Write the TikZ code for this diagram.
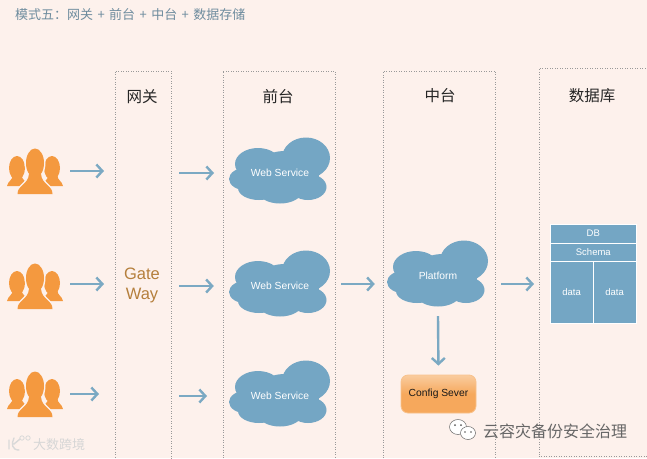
\documentclass[tikz,border=0pt]{standalone}
\usepackage{fontspec}
\setmainfont{Liberation Sans}
\newfontfamily\cjk{Noto Sans CJK SC}
\usetikzlibrary{arrows.meta}
\definecolor{bgc}{HTML}{FDF1EC}
\definecolor{steel}{HTML}{74A6C4}
\definecolor{arrowc}{HTML}{7BA9C3}
\definecolor{orangep}{HTML}{F4993F}
\definecolor{titlec}{HTML}{6E8C9E}
\definecolor{gatec}{HTML}{B57F3C}
\tikzset{
  panel/.style={draw=black!40,dotted,line width=.5pt,anchor=north west,inner sep=0pt},
  head/.style={font=\cjk\fontsize{15.5}{18}\selectfont,text=black!85},
  arr/.style={draw=arrowc,line width=2.4pt,-{Straight Barb[length=6pt,width=13pt,line width=2.4pt]}},
  cloudlabel/.style={font=\fontsize{10.3}{12}\selectfont,text=white,inner sep=0pt,minimum height=65pt},
  dbcell/.style={fill=steel,draw=white,line width=.6pt,text=white,font=\fontsize{9.5}{11}\selectfont,inner sep=0pt,anchor=north west},
  cloudshape/.pic={
    \fill[steel] (26,-15) ellipse [x radius=24pt,y radius=20.5pt]
      (-22,-9) ellipse [x radius=23pt,y radius=16pt]
      (5,-2) ellipse [x radius=30pt,y radius=20pt]
      (-33,6) ellipse [x radius=18pt,y radius=11.5pt]
      (-21,15) ellipse [x radius=21pt,y radius=12pt]
      (0,18) ellipse [x radius=22pt,y radius=12.5pt]
      (28,14) ellipse [x radius=18.5pt,y radius=13pt]
      (22,2) ellipse [x radius=17pt,y radius=14pt]
      (0,5) ellipse [x radius=32pt,y radius=20pt];
  },
  people/.pic={
    \fill[orangep] (-18,-3) ellipse [x radius=8pt,y radius=12pt];
    \fill[orangep] (17,-3) ellipse [x radius=8pt,y radius=12pt];
    \fill[orangep] (-28,15) .. controls (-27,10) and (-23,10) .. (-22,4) -- (-14,4) .. controls (-12,10) and (-9,10) .. (-6,15) -- cycle;
    \fill[orangep] (28,15) .. controls (27,10) and (23,10) .. (22,4) -- (14,4) .. controls (12,10) and (9,10) .. (6,15) -- cycle;
    \draw[bgc,line width=3pt] (0,-8) ellipse [x radius=9pt,y radius=14.5pt];
    \draw[bgc,line width=3pt] (-17.5,23) .. controls (-17.5,14) and (-7,14) .. (-6,3) -- (6,3) .. controls (7,14) and (17.5,14) .. (17.5,23);
    \fill[orangep] (0,-8) ellipse [x radius=9pt,y radius=14.5pt];
    \fill[orangep] (-17.5,23) .. controls (-17.5,14) and (-7,14) .. (-6,3) -- (6,3) .. controls (7,14) and (17.5,14) .. (17.5,23) -- cycle;
  },
}
\begin{document}
\begin{tikzpicture}[x=1pt,y=-1pt]
\useasboundingbox (0,0) rectangle (647,458);
\fill[bgc] (0,0) rectangle (647,458);
\clip (0,0) rectangle (647,458);

\node[anchor=west,font=\cjk\fontsize{13}{15}\selectfont,text=titlec,inner sep=0pt] (title) at (15,15) {模式五：网关\hspace{1.5pt} + \hspace{1.5pt}前台\hspace{1.5pt} + \hspace{1.5pt}中台\hspace{1.5pt} + \hspace{1.5pt}数据存储};

\node[panel,minimum width=56pt,minimum height=392pt] (pg) at (114.5,70.5) {};
\node[panel,minimum width=112pt,minimum height=392pt] (pf) at (222.5,70.5) {};
\node[panel,minimum width=112pt,minimum height=392pt] (pm) at (383,70.5) {};
\node[panel,minimum width=108pt,minimum height=388pt] (pd) at (538.5,68) {};

\node[head] (hg) at (142,97) {网关};
\node[head] (hf) at (278,97) {前台};
\node[head] (hm) at (440,96) {中台};
\node[head] (hd) at (592,96) {数据库};

\pic at (35,171) {people};
\pic at (35,286) {people};
\pic at (35,394) {people};
\node[minimum width=70pt,inner sep=0pt] (u1) at (35,171) {};
\node[minimum width=70pt,inner sep=0pt] (u2) at (35,284) {};
\node[minimum width=70pt,inner sep=0pt] (u3) at (35,394) {};

\node[font=\fontsize{16.5}{20}\selectfont,text=gatec,align=center,inner sep=0pt,minimum width=74pt] (gate) at (142,285) {Gate\\Way};

\pic at (280,173) {cloudshape};
\pic at (280,286) {cloudshape};
\pic at (280,396) {cloudshape};
\pic at (438,276) {cloudshape};
\node[cloudlabel,minimum width=122pt] (ws1) at (280,173) {Web Service};
\node[cloudlabel,minimum width=122pt] (ws2) at (280,286) {Web Service};
\node[cloudlabel,minimum width=122pt] (ws3) at (280,396) {Web Service};
\node[cloudlabel,minimum width=126pt,minimum height=80pt] (plat) at (438,276) {Platform};

\node[rounded corners=7pt,minimum width=75pt,minimum height=38pt,inner sep=0pt,draw=orangep!60,line width=.8pt,top color=orangep!50,bottom color=orangep!85,middle color=orangep!85,font=\fontsize{10.3}{12}\selectfont,text=black!90] (cfg) at (438.5,394) {Config Sever};

\node[dbcell,minimum width=86pt,minimum height=18.5pt] (db) at (550,224) {DB};
\node[dbcell,minimum width=86pt,minimum height=18.5pt] (sch) at (550,242.5) {Schema};
\node[dbcell,minimum width=42.5pt,minimum height=62pt] (d1) at (550,261) {data};
\node[dbcell,minimum width=43.5pt,minimum height=62pt] (d2) at (592.5,261) {data};

\coordinate (a1) at (104,171);
\coordinate (a2) at (104,284);
\coordinate (a3) at (99,394);
\coordinate (g1) at (179,173);
\coordinate (g3) at (179,396);
\coordinate (b1) at (214,173);
\coordinate (b3) at (207,396);
\coordinate (c2) at (534,284);

\draw[arr] (u1.east) -- (a1);
\draw[arr] (u2.east) -- (a2);
\draw[arr] (u3.east) -- (a3);
\draw[arr] (g1) -- (b1);
\draw[arr,shorten >=5pt] ([yshift=-1pt]gate.east) -- (ws2.west);
\draw[arr] (g3) -- (b3);
\draw[arr] ([yshift=2pt]ws2.east) -- ([yshift=-8pt]plat.west);
\draw[arr] ([yshift=-8pt]plat.east) -- (c2);
\draw[arr,shorten >=9pt] (plat.south) -- (cfg.north);

% left watermark logo
\draw[white!70!gray,line width=1.4pt,line cap=round] (9,440) -- (9,449) (14,438) .. controls (11,444) and (12,450) .. (19,450) (14,444) -- (20,439);
\draw[white!70!gray,line width=.8pt] (22,438) circle [radius=2.2pt] (28,438) circle [radius=2.2pt];
\node[anchor=west,font=\cjk\fontsize{13}{15}\selectfont,text=white!68!gray,inner sep=0pt] (wml) at (33,445) {大数跨境};

% right watermark
\fill[white,draw=black!60,line width=.5pt] (458,427) ellipse [x radius=8.5pt,y radius=7.5pt];
\fill[white,draw=black!60,line width=.5pt] (468,433) ellipse [x radius=7.5pt,y radius=6.5pt];
\fill[black!65] (455,425) circle [radius=1pt] (461,425) circle [radius=1pt] (465,432) circle [radius=.8pt] (471,432) circle [radius=.8pt];
\node[anchor=west,font=\cjk\fontsize{16}{18}\selectfont,text=black!60,inner sep=0pt] (wmr) at (483,431) {云容灾备份安全治理};
\end{tikzpicture}
\end{document}
